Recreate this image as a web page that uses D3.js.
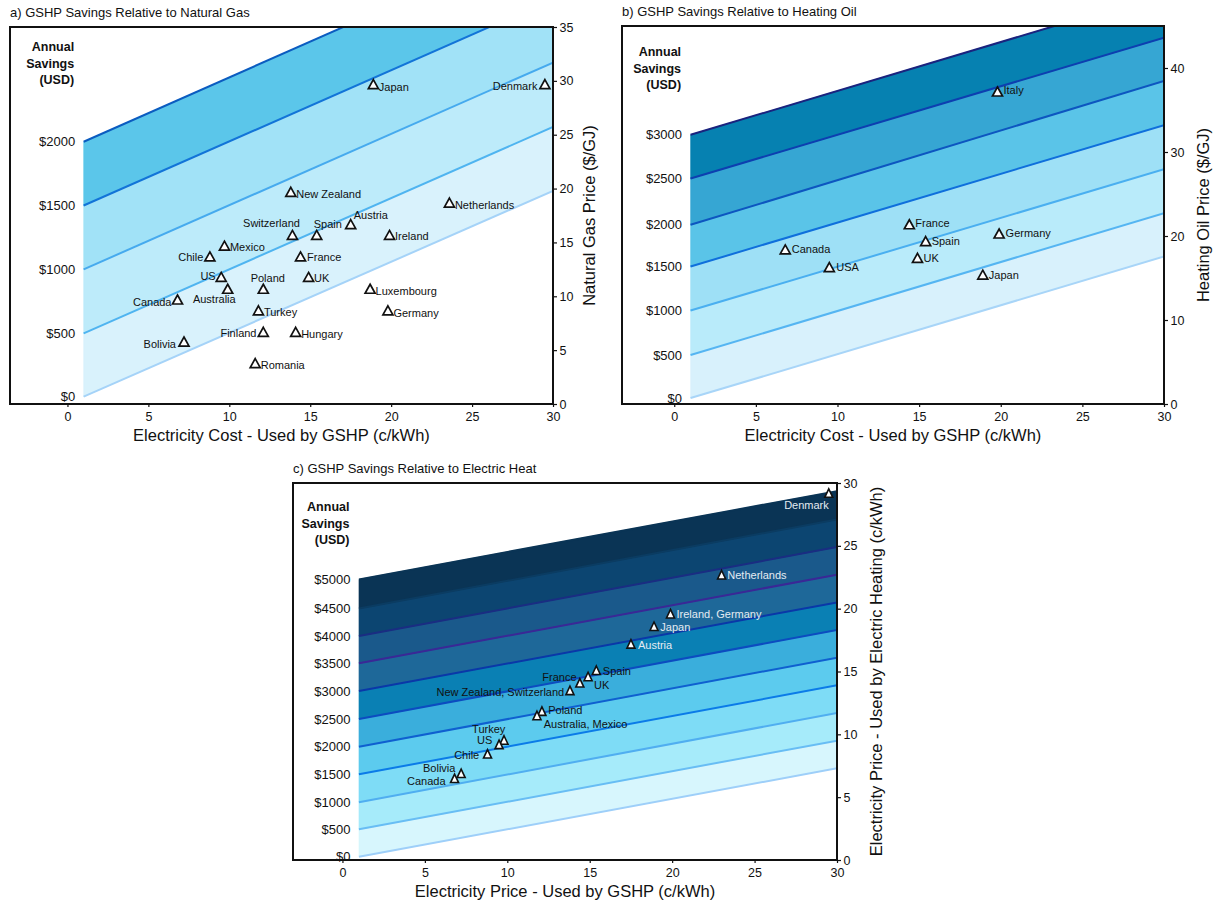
<!DOCTYPE html>
<html lang="en">
<head>
<meta charset="utf-8">
<title>GSHP Savings</title>
<script src="https://cdn.jsdelivr.net/npm/d3@7"></script>
<style>
  body { margin: 0; background: #fff; }
  svg text { font-family: "Liberation Sans", Arial, Helvetica, sans-serif; fill: #111; }
</style>
</head>
<body>
<svg id="chart" width="1215" height="905"></svg>
<script>
// ---------- data ----------
const xTicks = [0, 5, 10, 15, 20, 25, 30];

// a) natural gas: iso-savings lines, value at elec = 1 and elec = 30 c/kWh
const gasSavings = [0, 500, 1000, 1500, 2000];
const gasLineStart = [0.68, 6.56, 12.5, 18.43, 24.35];
const gasLineEnd = [19.79, 25.72, 31.7, 37.6, 43.6];
const gasTicks = [0, 5, 10, 15, 20, 25, 30, 35];
const gasCountries = ["Japan", "Denmark", "New Zealand", "Netherlands", "Switzerland", "Spain", "Austria", "Ireland",
  "Mexico", "Chile", "France", "US", "UK", "Australia", "Poland", "Luxembourg", "Canada", "Turkey", "Germany",
  "Finland", "Hungary", "Bolivia", "Romania"];
const gasElec = [18.9, 29.5, 13.8, 23.6, 13.9, 15.4, 17.5, 19.9, 9.7, 8.8, 14.4, 9.5, 14.9, 9.9, 12.1, 18.7, 6.8,
  11.8, 19.8, 12.1, 14.1, 7.2, 11.6];
const gasPrice = [29.7, 29.7, 19.7, 18.7, 15.7, 15.7, 16.7, 15.7, 14.7, 13.7, 13.7, 11.8, 11.8, 10.7, 10.7, 10.7,
  9.7, 8.7, 8.7, 6.7, 6.7, 5.8, 3.8];

// b) heating oil
const oilSavings = [0, 500, 1000, 1500, 2000, 2500, 3000];
const oilLineStart = [0.71, 5.83, 11.13, 16.37, 21.33, 26.85, 32.05];
const oilLineEnd = [17.56, 22.72, 27.95, 33.2, 38.46, 43.6, 48.9];
const oilTicks = [0, 10, 20, 30, 40];
const oilCountries = ["Italy", "France", "Germany", "Spain", "Canada", "UK", "USA", "Japan"];
const oilElec = [19.8, 14.4, 19.9, 15.4, 6.8, 14.9, 9.5, 18.9];
const oilPrice = [37.2, 21.4, 20.3, 19.4, 18.4, 17.4, 16.3, 15.4];

// c) electric heat
const elecSavings = [0, 500, 1000, 1500, 2000, 2500, 3000, 3500, 4000, 4500, 5000];
const elecLineStart = [0.26, 2.44, 4.59, 6.82, 9.01, 11.22, 13.44, 15.65, 17.82, 20.02, 22.33];
const elecLineEnd = [7.3, 9.5, 11.7, 13.9, 16.1, 18.3, 20.5, 22.7, 24.9, 27.1, 29.35];
const elecTicks = [0, 5, 10, 15, 20, 25, 30];
const elecCountries = ["Denmark", "Netherlands", "Ireland, Germany", "Japan", "Austria", "Spain", "UK", "France",
  "New Zealand, Switzerland", "Poland", "Australia, Mexico", "Turkey", "US", "Chile", "Bolivia", "Canada"];
const elecGshp = [29.5, 23.0, 19.9, 18.9, 17.5, 15.4, 14.9, 14.4, 13.8, 12.1, 11.8, 9.8, 9.5, 8.8, 7.2, 6.8];
const elecHeat = [29.2, 22.7, 19.6, 18.6, 17.2, 15.1, 14.6, 14.1, 13.5, 11.85, 11.5, 9.55, 9.2, 8.45, 6.9, 6.5];

// ---------- styles / placement ----------
const panels = [
  {
    title: "a) GSHP Savings Relative to Natural Gas",
    left: 10, right: 553, top: 27, bottom: 404, xMin: -3.55, yMax: 35,
    savings: gasSavings, start: gasLineStart, end: gasLineEnd, yTicks: gasTicks,
    names: gasCountries, px: gasElec, py: gasPrice,
    xTitle: "Electricity Cost - Used by GSHP (c/kWh)", yTitle: "Natural Gas Price ($/GJ)", yTitleOff: 36,
    headTop: 20,
    bands: ["#d9f2fc", "#bdebfa", "#a1e2f7", "#5bc6ea"],
    lines: ["#a5d3f8", "#4fb4f0", "#46aaee", "#1274d8", "#0b5cc0"],
    tri: [10, 9], triFill: "#fff", triStroke: 1.7,
    place: {
      "Japan": [5.5, 2.5, "start"], "Denmark": [-7.5, 2, "end"], "New Zealand": [5.5, 2.5, "start"],
      "Netherlands": [5.5, 2.5, "start"], "Switzerland": [7.5, -11.5, "end"], "Spain": [-3, -11, "start"],
      "Austria": [3, -9, "start"], "Ireland": [5.5, 1.5, "start"], "Mexico": [5.5, 1.5, "start"],
      "Chile": [-6.5, 1, "end"], "France": [6.5, 1, "start"], "US": [-5.5, -0.5, "end"], "UK": [5.5, 1.5, "start"],
      "Australia": [8, 10.3, "end"], "Poland": [4.5, -11, "middle"], "Luxembourg": [5.5, 2, "start"],
      "Canada": [-6, 2.3, "end"], "Turkey": [5.5, 2, "start"], "Germany": [5.5, 2.5, "start"],
      "Finland": [-6.8, 1.5, "end"], "Hungary": [5.5, 2, "start"], "Bolivia": [-8, 2, "end"],
      "Romania": [5.5, 2, "start"]
    }
  },
  {
    title: "b) GSHP Savings Relative to Heating Oil",
    left: 622, right: 1164, top: 26, bottom: 404, xMin: -3.2, yMax: 45,
    savings: oilSavings, start: oilLineStart, end: oilLineEnd, yTicks: oilTicks,
    names: oilCountries, px: oilElec, py: oilPrice,
    xTitle: "Electricity Cost - Used by GSHP (c/kWh)", yTitle: "Heating Oil Price ($/GJ)", yTitleOff: 38.5,
    headTop: 26,
    bands: ["#d8f1fc", "#b9ebfa", "#9ee0f6", "#5ac4e8", "#36a6d3", "#0681b1"],
    lines: ["#a8d5f8", "#55b5f2", "#4aaff0", "#0f6fdc", "#0d56c0", "#0d3fb0", "#1a237e"],
    tri: [10, 9], triFill: "#fff", triStroke: 1.7,
    place: {
      "Italy": [6, -2, "start"], "France": [6, -1, "start"], "Germany": [6.5, 0, "start"], "Spain": [6, 0, "start"],
      "Canada": [6.5, 0, "start"], "UK": [6, 0, "start"], "USA": [7, 0, "start"], "Japan": [6, 0, "start"]
    }
  },
  {
    title: "c) GSHP Savings Relative to Electric Heat",
    left: 293, right: 837, top: 483, bottom: 860, xMin: -3.0, yMax: 30,
    savings: elecSavings, start: elecLineStart, end: elecLineEnd, yTicks: elecTicks,
    names: elecCountries, px: elecGshp, py: elecHeat,
    xTitle: "Electricity Price - Used by GSHP (c/kWh)", yTitle: "Electricity Price - Used by Electric Heating (c/kWh)",
    yTitleOff: 39,
    headTop: 24,
    bands: ["#d7f6fd", "#a6ebfa", "#7edcf6", "#5ccbee", "#3aaedc", "#0a80b4", "#1e6899", "#1a598b", "#0c4571", "#0a3455"],
    lines: ["#9ecff9", "#68bdf4", "#50aef0", "#0b7be8", "#0f60d0", "#0c4cc0", "#0a38a8", "#3a2896", "#1a2d82", "#0b3c62", "#0a3455"],
    tri: [8, 8.5], triFill: "#fff", triStroke: 1.6,
    light: ["Denmark", "Netherlands", "Ireland, Germany", "Japan", "Austria"],
    place: {
      "Denmark": [0, 11.7, "end"], "Netherlands": [5.7, 0, "start"], "Ireland, Germany": [6, 0, "start"],
      "Japan": [6.3, 1, "start"], "Austria": [7, 0.7, "start"], "Spain": [6.5, 1, "start"], "UK": [6, 8, "start"],
      "France": [-3.3, -5.7, "end"], "New Zealand, Switzerland": [-5.7, 1.7, "end"], "Poland": [6.3, -0.7, "start"],
      "Australia, Mexico": [6.7, 9, "start"], "Turkey": [1.3, -10.7, "end"], "US": [-6.7, -4.3, "end"],
      "Chile": [-8.3, 1, "end"], "Bolivia": [-5.7, -5.7, "end"], "Canada": [-9, 2.3, "end"]
    }
  }
];

const svg = d3.select("#chart");

function triPath(w, h) {
  return `M0,${-h / 2}L${w / 2},${h / 2}L${-w / 2},${h / 2}Z`;
}

panels.forEach(function(p, pi) {
  const x = d3.scaleLinear().domain([p.xMin, 30]).range([p.left, p.right]);
  const y = d3.scaleLinear().domain([0, p.yMax]).range([p.bottom, p.top]);
  const g = svg.append("g");

  const clipId = "clip" + pi;
  svg.append("clipPath").attr("id", clipId)
    .append("rect").attr("x", p.left).attr("y", p.top)
    .attr("width", p.right - p.left).attr("height", p.bottom - p.top);

  const plot = g.append("g").attr("clip-path", `url(#${clipId})`);

  // bands between consecutive savings lines
  p.bands.forEach(function(col, i) {
    const pts = [[1, p.start[i]], [30, p.end[i]], [30, p.end[i + 1]], [1, p.start[i + 1]]];
    plot.append("path")
      .attr("d", d3.line().x(d => x(d[0])).y(d => y(d[1]))(pts) + "Z")
      .attr("fill", col)
      .attr("stroke", col).attr("stroke-width", 0.5);
  });

  // iso-savings lines
  p.savings.forEach(function(s, i) {
    plot.append("line")
      .attr("x1", x(1)).attr("y1", y(p.start[i]))
      .attr("x2", x(30)).attr("y2", y(p.end[i]))
      .attr("stroke", p.lines[i]).attr("stroke-width", 2);
  });

  // savings labels at left end of each line
  p.savings.forEach(function(s, i) {
    g.append("text")
      .attr("x", x(1) - 8.5).attr("y", y(p.start[i]))
      .attr("text-anchor", "end").attr("dominant-baseline", "central")
      .attr("font-size", 13)
      .text("$" + s);
  });

  // heading
  const head = g.append("text")
    .attr("text-anchor", "end").attr("font-size", 12.5).attr("font-weight", "bold");
  ["Annual", "Savings", "(USD)"].forEach(function(t, i) {
    head.append("tspan")
      .attr("x", x(1) - 9.5).attr("y", p.top + p.headTop + i * 16.5)
      .attr("dominant-baseline", "central")
      .text(t);
  });

  // markers + labels
  const pts = p.names.map((n, i) => ({ name: n, ex: p.px[i], ey: p.py[i] }));
  g.selectAll(".tri" + pi).data(pts).enter().append("path")
    .attr("transform", d => `translate(${x(d.ex)},${y(d.ey)})`)
    .attr("d", triPath(p.tri[0], p.tri[1]))
    .attr("fill", p.triFill).attr("stroke", "#111")
    .attr("stroke-width", p.triStroke).attr("stroke-linejoin", "miter");

  g.selectAll(".lab" + pi).data(pts).enter().append("text")
    .attr("x", d => x(d.ex) + p.place[d.name][0])
    .attr("y", d => y(d.ey) + p.place[d.name][1])
    .attr("text-anchor", d => p.place[d.name][2])
    .attr("dominant-baseline", "central")
    .attr("font-size", 11)
    .style("fill", d => (p.light && p.light.includes(d.name)) ? "#e4ebf2" : "#111")
    .text(d => d.name);

  // frame
  g.append("rect")
    .attr("x", p.left).attr("y", p.top)
    .attr("width", p.right - p.left).attr("height", p.bottom - p.top)
    .attr("fill", "none").attr("stroke", "#111").attr("stroke-width", 2);

  // bottom axis
  const xa = g.append("g").attr("transform", `translate(0,${p.bottom})`)
    .call(d3.axisBottom(x).tickValues(xTicks).tickSize(3).tickPadding(5.5));
  xa.select(".domain").remove();
  xa.selectAll("text").attr("font-size", 12.5).style("font-family", null);

  // right axis
  const ya = g.append("g").attr("transform", `translate(${p.right},0)`)
    .call(d3.axisRight(y).tickValues(p.yTicks).tickSize(4).tickPadding(2.5));
  ya.select(".domain").remove();
  ya.selectAll("text").attr("font-size", 12.5);
  g.selectAll(".tick line").attr("stroke", "#111").attr("stroke-width", 1.2);
  g.selectAll(".tick text").style("fill", "#111");

  // titles
  g.append("text").attr("x", p.left).attr("y", p.top - 10)
    .attr("font-size", 13).text(p.title);
  g.append("text")
    .attr("x", (p.left + p.right) / 2).attr("y", p.bottom + 37)
    .attr("text-anchor", "middle").attr("font-size", 16.5)
    .text(p.xTitle);
  g.append("text")
    .attr("transform", `translate(${p.right + p.yTitleOff},${(p.top + p.bottom) / 2}) rotate(-90)`)
    .attr("text-anchor", "middle").attr("dominant-baseline", "central")
    .attr("font-size", 16.5)
    .text(p.yTitle);
});
</script>
</body>
</html>
